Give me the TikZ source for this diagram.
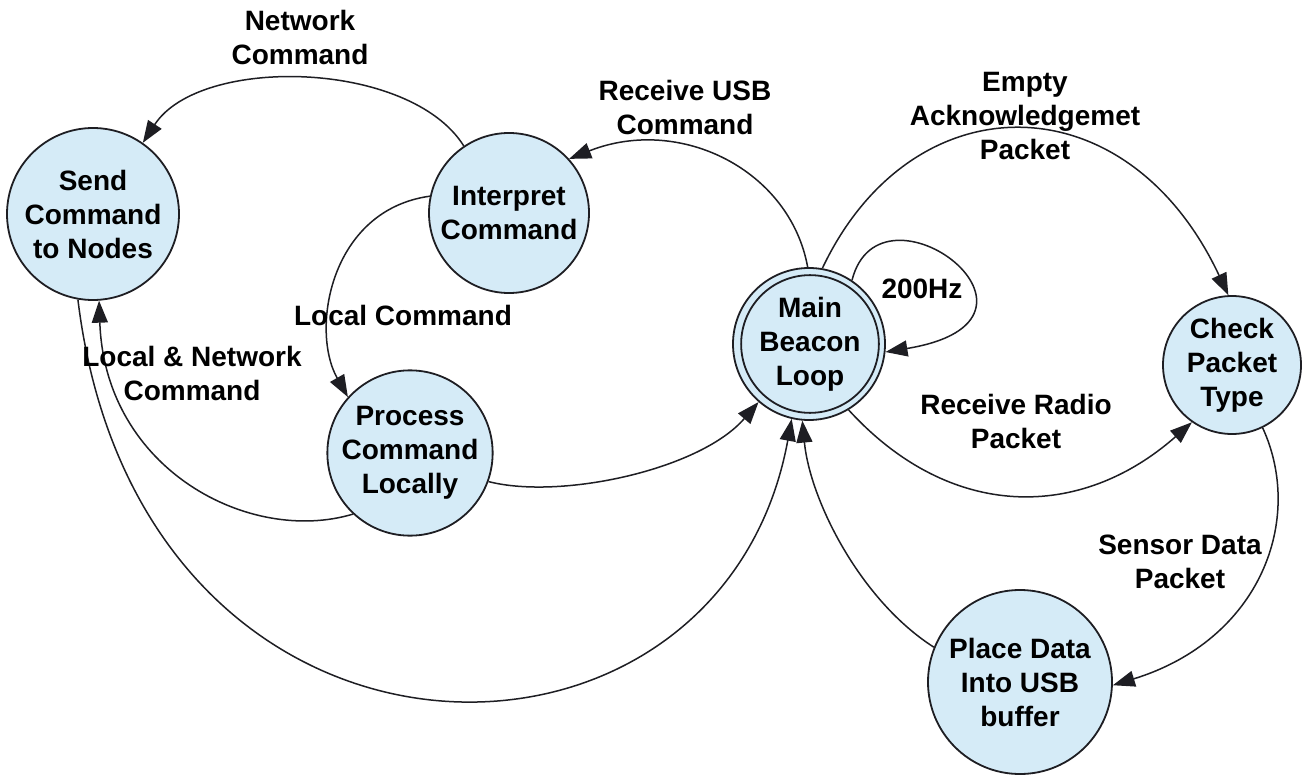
\documentclass[tikz,border=0pt]{standalone}
\usepackage{fontspec}
\setmainfont{Liberation Sans}
\usetikzlibrary{arrows.meta}
\definecolor{statefill}{RGB}{213,235,247}
\definecolor{ink}{RGB}{30,30,35}
\begin{document}
\begin{tikzpicture}[x=1pt,y=-1pt,
  txt/.style={align=center, font=\fontsize{28}{34}\selectfont\bfseries, text=black},
  state/.style={txt, circle, draw=ink, line width=1.8pt, fill=statefill, inner sep=0pt},
  ring/.style={circle, draw=ink, line width=1.8pt, inner sep=0pt},
  lbl/.style={txt, inner sep=0pt, anchor=base},
  edge/.style={draw=ink, line width=1.5pt, -{Triangle[length=22pt,width=16pt]}}]
\fill[white] (0,0) rectangle (1309,778);
\useasboundingbox (0,0) rectangle (1309,778);

% states
\node[state, minimum size=172pt] (send) at (93,214) {Send\\Command\\to Nodes};
\node[state, minimum size=160pt] (interp) at (509,213) {Interpret\\Command};
\node[state, minimum size=164pt] (proc) at (410,453) {Process\\Command\\Locally};
\node[state, minimum size=152pt] (main) at (809,344) {};
\node[ring, txt, minimum size=122pt] (maininner) at (810,344) {Main\\Beacon\\Loop};
\node[state, minimum size=138pt] (check) at (1232,365) {Check\\Packet\\Type};
\node[state, minimum size=184pt] (place) at (1020,682) {Place Data\\Into USB\\buffer};

% connectors
\draw[edge] (interp.124) .. controls (410,60) and (200,55) .. (send.55);
\draw[edge] (main.91) .. controls (790,170) and (680,115) .. (interp.42);
\draw[edge] (interp.168) .. controls (330,210) and (310,330) .. (proc.138);
\draw[edge] (proc.227) .. controls (250,545) and (105,470) .. (send.274);
\draw[edge] (send.260) .. controls (140,810) and (720,810) .. (main.257);
\draw[edge] (proc.340) .. controls (560,500) and (700,470) .. (main.229);
\draw[edge] (place.158) .. controls (860,600) and (810,500) .. (main.265);
\draw[edge] (main.80) .. controls (912,79) and (1127,79) .. (check.93);
\draw[edge] (main.301) .. controls (950,521) and (1080,521) .. (check.235);
\draw[edge] (check.296) .. controls (1305,520) and (1260,640) .. (place.358);
\draw[edge] (main.56) .. controls (880,170) and (1080,320) .. (main.354);

% labels (anchor = baseline of the last line)
\node[lbl] (lnet) at (300,65) {Network\\Command};
\node[lbl] (lusb) at (685,135) {Receive USB\\Command};
\node[lbl] (lempty) at (1025,160) {Empty\\Acknowledgemet\\Packet};
\node[lbl] (lhz) at (922,298) {200Hz};
\node[lbl] (lloc) at (403,325) {Local Command};
\node[lbl] (llocnet) at (192,400) {Local \& Network\\Command};
\node[lbl] (lradio) at (1016,448) {Receive Radio\\Packet};
\node[lbl] (lsensor) at (1180,588) {Sensor Data\\Packet};
\end{tikzpicture}
\end{document}
